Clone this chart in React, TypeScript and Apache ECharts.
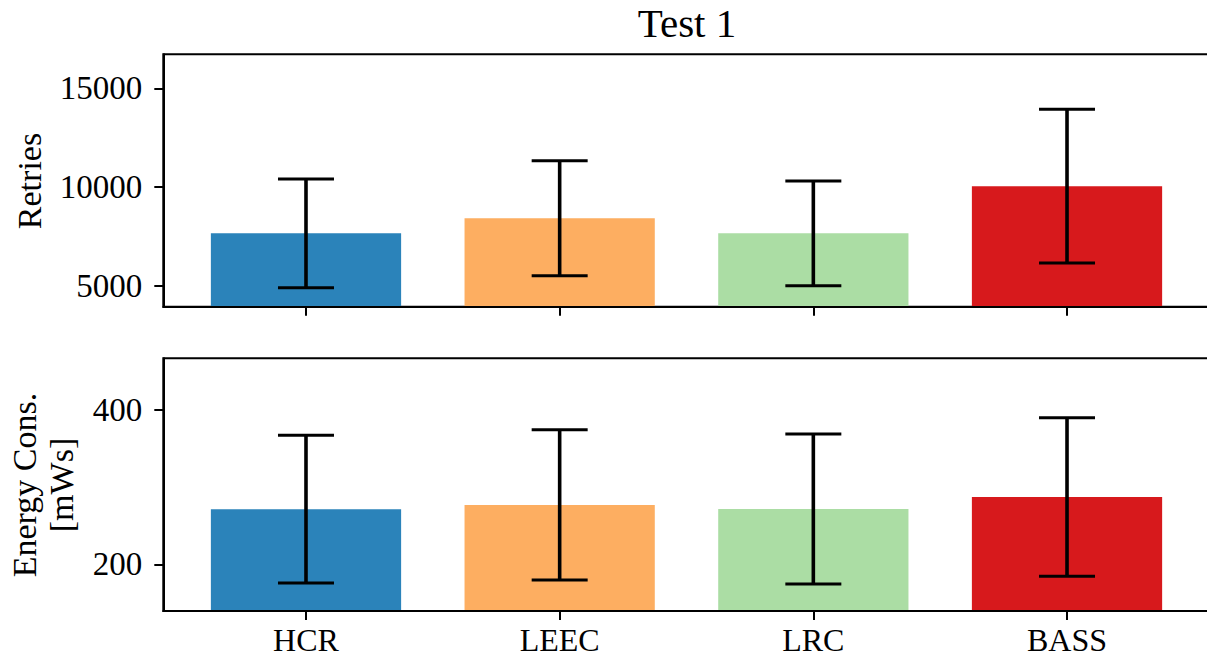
import React, { useEffect, useRef } from "react";
import * as echarts from "echarts";

const categories = ["HCR", "LEEC", "LRC", "BASS"];
const retriesMean = [7660, 8420, 7665, 10045];
const retriesErr = [2755, 2910, 2650, 3890];
const energyMean = [271.5, 277, 271.7, 287.3];
const energyErr = [95.8, 97.3, 97.2, 102.7];
const barColors = ["#2b83ba", "#fdae61", "#abdda4", "#d7191c"];
const retriesTicks = [5000, 10000, 15000];
const energyTicks = [200, 400];
const catTicks = [0, 1, 2, 3];

const FONT = "Liberation Serif";

function barRender(params: any, api: any) {
  const x = api.value(0);
  const v = api.value(1);
  const top = api.coord([x, v]);
  const base = api.coord([x, 0]);
  const w = api.size([0.75, 0])[0];
  return {
    type: "rect",
    shape: { x: top[0] - w / 2, y: top[1], width: w, height: base[1] - top[1] },
    style: { fill: barColors[params.dataIndex] },
  };
}

function errRender(params: any, api: any) {
  const x = api.value(0);
  const m = api.value(1);
  const e = api.value(2);
  const hi = api.coord([x, m + e]);
  const lo = api.coord([x, m - e]);
  const cap = 28;
  return {
    type: "group",
    children: [
      { type: "line", shape: { x1: hi[0], y1: hi[1], x2: lo[0], y2: lo[1] }, style: { stroke: "#000", lineWidth: 3.6 } },
      { type: "line", shape: { x1: hi[0] - cap, y1: hi[1], x2: hi[0] + cap, y2: hi[1] }, style: { stroke: "#000", lineWidth: 3 } },
      { type: "line", shape: { x1: lo[0] - cap, y1: lo[1], x2: lo[0] + cap, y2: lo[1] }, style: { stroke: "#000", lineWidth: 3 } },
    ],
  };
}

export default function App() {
  const ref = useRef<HTMLDivElement>(null);
  useEffect(() => {
    if (!ref.current) return;
    const chart = echarts.init(ref.current, null, { renderer: "svg" });
    const tickStyle = { color: "#000", width: 2 };
    const mkX = (i: number) => ({
      type: "value",
      gridIndex: i,
      min: -0.5625,
      max: 3.5625,
      z: 10,
      axisLine: { show: true, onZero: false, lineStyle: { color: "#000", width: 2 } },
      splitLine: { show: false },
      axisTick: { show: true, customValues: catTicks, length: 9, lineStyle: tickStyle },
      axisLabel: {
        show: i === 1,
        customValues: catTicks,
        formatter: (v: number) => categories[Math.round(v)] ?? "",
        fontFamily: FONT,
        fontSize: 32,
        lineHeight: 28,
        color: "#000",
        margin: 29,
        verticalAlign: "middle",
      },
    });
    const mkY = (i: number, min: number, max: number, ticks: number[]) => ({
      type: "value",
      gridIndex: i,
      min,
      max,
      z: 10,
      axisLine: { show: true, onZero: false, lineStyle: { color: "#000", width: 2 } },
      splitLine: { show: false },
      axisTick: { show: true, customValues: ticks, length: 9, lineStyle: tickStyle },
      axisLabel: {
        customValues: ticks,
        formatter: (v: number) => String(v),
        fontFamily: FONT,
        fontSize: 33,
        color: "#000",
        margin: 21,
      },
    });
    chart.setOption({
      animation: false,
      backgroundColor: "#fff",
      grid: [
        { left: 163.3, top: 54.3, width: 1046.4, height: 252.4, outerBoundsMode: "none", containLabel: false, show: true, borderColor: "#000", borderWidth: 2, backgroundColor: "transparent" },
        { left: 163.3, top: 358.3, width: 1046.4, height: 252.7, outerBoundsMode: "none", containLabel: false, show: true, borderColor: "#000", borderWidth: 2, backgroundColor: "transparent" },
      ],
      xAxis: [mkX(0), mkX(1)],
      yAxis: [mkY(0, 3950, 16720, retriesTicks), mkY(1, 139.5, 467, energyTicks)],
      series: [
        {
          type: "custom",
          xAxisIndex: 0,
          yAxisIndex: 0,
          clip: true,
          renderItem: barRender,
          data: categories.map((_, i) => [i, retriesMean[i]]),
        },
        {
          type: "custom",
          xAxisIndex: 0,
          yAxisIndex: 0,
          renderItem: errRender,
          data: categories.map((_, i) => [i, retriesMean[i], retriesErr[i]]),
        },
        {
          type: "custom",
          xAxisIndex: 1,
          yAxisIndex: 1,
          clip: true,
          renderItem: barRender,
          data: categories.map((_, i) => [i, energyMean[i]]),
        },
        {
          type: "custom",
          xAxisIndex: 1,
          yAxisIndex: 1,
          renderItem: errRender,
          data: categories.map((_, i) => [i, energyMean[i], energyErr[i]]),
        },
      ],
      graphic: [
        {
          type: "text",
          x: 687,
          y: 22.5,
          style: { text: "Test 1", fontFamily: FONT, fontSize: 41, fill: "#000", align: "center", verticalAlign: "middle" },
        },
        {
          type: "text",
          x: 29.5,
          y: 181,
          rotation: Math.PI / 2,
          style: { text: "Retries", fontFamily: FONT, fontSize: 34, fill: "#000", align: "center", verticalAlign: "middle" },
        },
        {
          type: "text",
          x: 24,
          y: 485,
          rotation: Math.PI / 2,
          style: { text: "Energy Cons.", fontFamily: FONT, fontSize: 34, fill: "#000", align: "center", verticalAlign: "middle" },
        },
        {
          type: "text",
          x: 61,
          y: 485,
          rotation: Math.PI / 2,
          style: { text: "[mWs]", fontFamily: FONT, fontSize: 34, fill: "#000", align: "center", verticalAlign: "middle" },
        },
      ],
    });
    return () => chart.dispose();
  }, []);
  return (
    <div
      ref={ref}
      style={{ position: "fixed", left: 0, top: 0, width: 1207, height: 659, background: "#fff" }}
    />
  );
}
